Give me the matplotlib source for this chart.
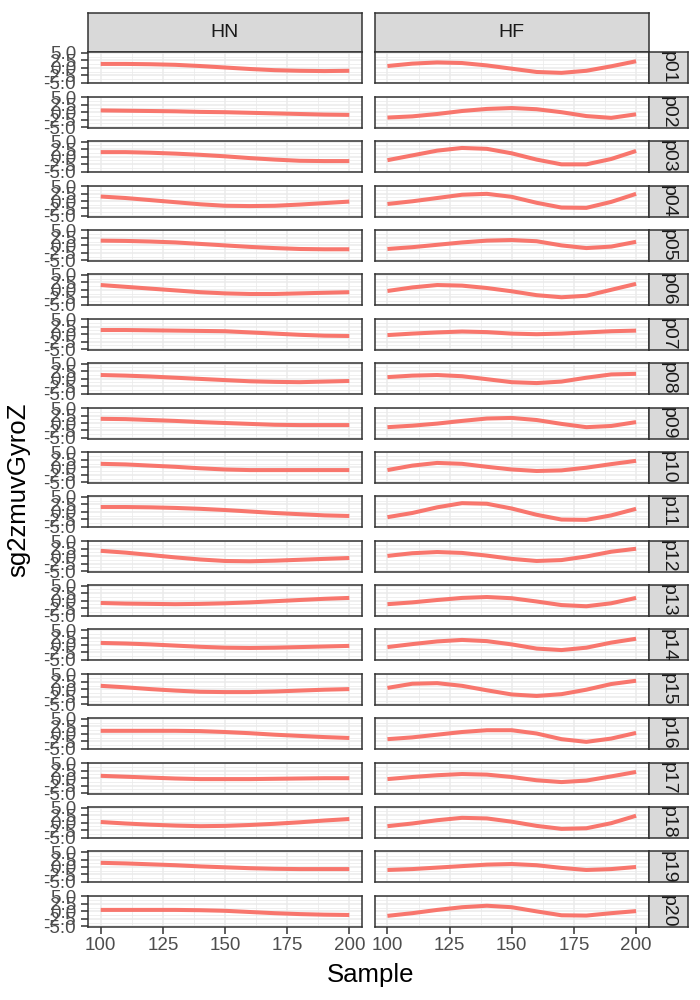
import numpy as np
import matplotlib
matplotlib.use("Agg")
import matplotlib.pyplot as plt
from matplotlib.ticker import FixedLocator, FixedFormatter

plt.rcParams['font.family'] = ['Liberation Sans', 'DejaVu Sans']
plt.rcParams['axes.unicode_minus'] = False

sample = [100, 110, 120, 130, 140, 150, 160, 170, 180, 190, 200]
participants = ['p%02d' % i for i in range(1, 21)]
groups = ['HN', 'HF']

hn_curves = [
    [1.3, 1.3, 1.2, 1.0, 0.6, 0.1, -0.4, -0.8, -1.0, -1.1, -1.0],
    [0.6, 0.5, 0.4, 0.3, 0.1, 0.0, -0.2, -0.4, -0.6, -0.8, -0.9],
    [1.5, 1.5, 1.3, 1.0, 0.6, 0.1, -0.5, -1.0, -1.4, -1.5, -1.5],
    [1.5, 1.0, 0.3, -0.4, -1.1, -1.6, -1.7, -1.6, -1.2, -0.7, -0.2],
    [1.6, 1.5, 1.3, 1.0, 0.5, 0.0, -0.5, -0.9, -1.2, -1.3, -1.3],
    [1.6, 1.0, 0.4, -0.2, -0.8, -1.2, -1.4, -1.4, -1.2, -1.0, -0.8],
    [1.4, 1.4, 1.3, 1.2, 1.1, 1.0, 0.6, 0.2, -0.2, -0.5, -0.6],
    [1.2, 1.0, 0.7, 0.3, -0.1, -0.5, -0.9, -1.1, -1.2, -1.0, -0.8],
    [1.4, 1.3, 1.0, 0.7, 0.3, 0.0, -0.3, -0.6, -0.7, -0.7, -0.7],
    [1.2, 1.0, 0.6, 0.2, -0.3, -0.7, -0.9, -0.9, -0.9, -0.9, -0.9],
    [1.6, 1.6, 1.5, 1.3, 1.0, 0.6, 0.1, -0.4, -0.8, -1.2, -1.4],
    [1.8, 1.2, 0.4, -0.4, -1.1, -1.6, -1.7, -1.5, -1.2, -0.9, -0.6],
    [-0.8, -1.0, -1.1, -1.2, -1.1, -0.9, -0.6, -0.2, 0.2, 0.6, 0.9],
    [0.7, 0.5, 0.2, -0.2, -0.6, -0.9, -1.0, -0.9, -0.7, -0.5, -0.3],
    [1.2, 0.7, 0.1, -0.4, -0.8, -0.9, -0.9, -0.7, -0.4, -0.1, 0.1],
    [1.0, 1.0, 1.0, 1.0, 0.9, 0.6, 0.2, -0.3, -0.7, -1.1, -1.4],
    [0.8, 0.5, 0.2, -0.1, -0.3, -0.3, -0.3, -0.2, -0.1, 0.0, 0.0],
    [0.2, -0.3, -0.7, -1.0, -1.2, -1.1, -0.8, -0.4, 0.1, 0.7, 1.2],
    [1.4, 1.2, 0.9, 0.6, 0.2, -0.1, -0.4, -0.6, -0.7, -0.7, -0.7],
    [0.5, 0.5, 0.5, 0.5, 0.4, 0.2, -0.2, -0.6, -0.9, -1.1, -1.2],
]

hf_curves = [
    [0.6, 1.4, 1.8, 1.6, 0.8, -0.3, -1.4, -1.7, -1.0, 0.5, 2.2],
    [-1.8, -1.4, -0.6, 0.4, 1.1, 1.4, 1.0, 0.0, -1.3, -1.9, -0.7],
    [-1.2, 0.4, 2.0, 2.9, 2.6, 1.1, -1.0, -2.6, -2.6, -0.8, 1.9],
    [-1.0, -0.1, 1.0, 2.1, 2.4, 1.4, -0.6, -2.2, -2.3, -0.3, 2.4],
    [-1.2, -0.6, 0.2, 1.0, 1.6, 1.8, 1.4, 0.0, -0.9, -0.4, 1.2],
    [-0.4, 0.8, 1.6, 1.4, 0.6, -0.5, -1.8, -2.5, -2.0, 0.0, 2.0],
    [-0.3, 0.2, 0.6, 0.9, 0.7, 0.2, 0.0, 0.2, 0.6, 1.0, 1.2],
    [0.5, 1.0, 1.2, 0.8, -0.2, -1.2, -1.5, -1.0, 0.3, 1.4, 1.6],
    [-1.4, -0.9, -0.2, 0.7, 1.5, 1.7, 1.0, -0.3, -1.4, -1.0, 0.3],
    [-0.9, 0.6, 1.5, 1.2, 0.2, -0.7, -1.2, -1.0, -0.1, 1.1, 2.2],
    [-1.8, -0.4, 1.5, 2.9, 2.7, 1.1, -1.0, -2.6, -2.7, -1.2, 1.0],
    [0.1, 1.0, 1.4, 1.1, 0.2, -0.9, -1.6, -1.3, -0.1, 1.5, 2.5],
    [-1.2, -0.6, 0.2, 0.9, 1.2, 0.8, -0.3, -1.5, -1.9, -0.9, 0.9],
    [-0.7, 0.3, 1.2, 1.7, 1.3, 0.2, -1.2, -1.7, -0.9, 0.8, 2.1],
    [0.5, 1.9, 2.1, 1.2, -0.3, -1.7, -2.2, -1.6, -0.1, 1.8, 2.9],
    [-1.8, -1.2, -0.3, 0.6, 1.2, 1.2, 0.1, -1.8, -2.7, -1.6, 0.3],
    [-0.3, 0.4, 1.0, 1.4, 1.2, 0.4, -0.7, -1.3, -0.8, 0.6, 2.1],
    [-1.2, -0.3, 0.8, 1.6, 1.4, 0.3, -1.1, -2.1, -1.9, -0.2, 2.3],
    [-1.0, -0.7, -0.2, 0.3, 0.8, 1.0, 0.6, -0.3, -1.0, -0.7, 0.0],
    [-1.5, -0.6, 0.5, 1.4, 1.9, 1.4, 0.0, -1.3, -1.4, -0.6, 0.1],
]

x_ticks = [100, 125, 150, 175, 200]
y_ticks = [-5.0, -2.5, 0.0, 2.5, 5.0]
y_labels = ['-5.0', '-2.5', '0.0', '2.5', '5.0']

# === Layout (pixel positions in a 700x1000 figure) ===
W, H = 700, 1000
fig = plt.figure(figsize=(7, 10), dpi=100)


def rect(x0, y0, x1, y1):
    return [x0 / W, 1 - y1 / H, (x1 - x0) / W, (y1 - y0) / H]


cols = [(88.3, 361.7), (375.0, 648.5)]
row_top0, row_pitch, row_h = 52.3, 44.4, 31.0
strip_top = 12.7
strip_right = 688.0
edge = '#333333'
line_col = '#F8766D'


def style_strip(ax):
    ax.set_facecolor('#D9D9D9')
    ax.set_xticks([])
    ax.set_yticks([])
    for s in ax.spines.values():
        s.set_color(edge)
        s.set_linewidth(1.1)


for j, (g, (x0, x1)) in enumerate(zip(groups, cols)):
    sax = fig.add_axes(rect(x0, strip_top, x1, row_top0))
    style_strip(sax)
    sax.text(0.5, 0.5, g, transform=sax.transAxes, ha='center', va='center',
             fontsize=14, color='#1A1A1A')

for i, p in enumerate(participants):
    top = row_top0 + i * row_pitch
    bot = top + row_h
    for j, curves in enumerate([hn_curves, hf_curves]):
        x0, x1 = cols[j]
        ax = fig.add_axes(rect(x0, top, x1, bot))
        ax.plot(sample, curves[i], color=line_col, lw=2.9, solid_capstyle='butt', zorder=3)
        ax.set_xlim(95, 205)
        ax.set_ylim(-5.2, 5.2)
        ax.xaxis.set_major_locator(FixedLocator(x_ticks))
        ax.xaxis.set_minor_locator(FixedLocator([112.5, 137.5, 162.5, 187.5]))
        ax.yaxis.set_major_locator(FixedLocator(y_ticks))
        ax.yaxis.set_minor_locator(FixedLocator([-3.75, -1.25, 1.25, 3.75]))
        ax.yaxis.set_major_formatter(FixedFormatter(y_labels))
        ax.grid(which='major', color='#EBEBEB', lw=1.1)
        ax.grid(which='minor', color='#EBEBEB', lw=0.55)
        ax.set_axisbelow(True)
        for s in ax.spines.values():
            s.set_color(edge)
            s.set_linewidth(1.1)
        ax.tick_params(which='minor', length=0)
        ax.tick_params(which='major', length=4.8, width=1.1, color=edge,
                       labelcolor='#4D4D4D', labelsize=13.5, pad=2.5)
        ax.tick_params(axis='y', left=(j == 0), labelleft=(j == 0), pad=4.0)
        ax.tick_params(axis='x', bottom=(i == len(participants) - 1),
                       labelbottom=(i == len(participants) - 1))
    rax = fig.add_axes(rect(cols[1][1], top, strip_right, bot))
    style_strip(rax)
    rax.text(0.5, 0.5, p, transform=rax.transAxes, ha='center', va='center',
             rotation=-90, fontsize=14, color='#1A1A1A')

fig.text(371 / W, 1 - 975 / H, 'Sample', ha='center', va='center', fontsize=18.5)
fig.text(18 / W, 1 - 490 / H, 'sg2zmuvGyroZ', ha='center', va='center',
         rotation=90, fontsize=18.5)

fig.savefig('out.png', dpi=100, facecolor='white')
